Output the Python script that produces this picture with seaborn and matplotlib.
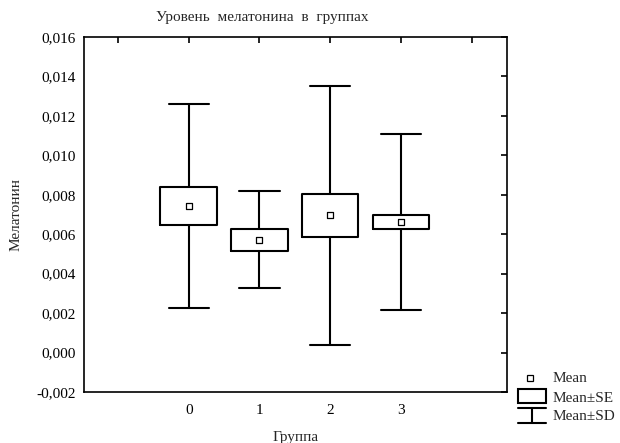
import matplotlib
matplotlib.use("Agg")
import matplotlib.pyplot as plt
import seaborn as sns
import pandas as pd
from matplotlib.ticker import FuncFormatter, FixedLocator
from matplotlib.lines import Line2D
from matplotlib.patches import Rectangle

groups = ["0", "1", "2", "3"]
means = [0.00743, 0.00572, 0.00695, 0.00662]
se = [0.00095, 0.00055, 0.00108, 0.00037]
sd = [0.00519, 0.00247, 0.00658, 0.00448]
yticks = [-0.002, 0.0, 0.002, 0.004, 0.006, 0.008, 0.010, 0.012, 0.014, 0.016]

sns.set_style("white")
plt.rcParams['font.family'] = ['Liberation Serif', 'DejaVu Serif']
plt.rcParams['font.size'] = 11

fig = plt.figure(figsize=(6.2, 4.43), dpi=100)
ax = fig.add_axes([84/620, 1-392/443, (507-84)/620, (392-37)/443])

stats = []
for g, m, s, d in zip(groups, means, se, sd):
    stats.append(dict(label=g, med=m, q1=m - s, q3=m + s,
                      whislo=m - d, whishi=m + d, mean=m, fliers=[]))
pos = list(range(len(groups)))
lw = 1.5
ax.bxp(stats, positions=pos, widths=0.8, showmeans=False, showfliers=False,
       boxprops=dict(color="black", linewidth=lw),
       whiskerprops=dict(color="black", linewidth=lw),
       capprops=dict(color="black", linewidth=lw),
       medianprops=dict(linewidth=0, color="none"),
       capwidths=0.57, manage_ticks=False)

df = pd.DataFrame({"pos": pos, "mean": means})
sns.scatterplot(data=df, x="pos", y="mean", marker="s", s=22, color="white",
                edgecolor="black", linewidth=0.9, ax=ax, zorder=5)

ax.set_xlim(-1.48, 4.5)
ax.set_ylim(-0.002, 0.016)
ax.xaxis.set_major_locator(FixedLocator([-1, 0, 1, 2, 3, 4]))
ax.set_xticklabels(["", "0", "1", "2", "3", ""])
ax.yaxis.set_major_locator(FixedLocator(yticks))
ax.yaxis.set_major_formatter(FuncFormatter(lambda v, p: f"{v:.3f}".replace(".", ",").replace("-0,000", "0,000")))
ax.tick_params(direction="in", length=4, width=1.2, top=True, right=True,
               labelsize=11, colors="black", pad=6)
ax.tick_params(axis="x", pad=9)
for sp in ax.spines.values():
    sp.set_color("black")
    sp.set_linewidth(1.2)
    sp.set_visible(True)
ax.set_xlabel("Группа", fontsize=11)
ax.set_ylabel("Мелатонин", fontsize=11)
ax.xaxis.set_label_coords(0.5, (392-437)/355)
ax.xaxis.label.set_va("center")
ax.yaxis.set_label_coords((16-84)/423, 0.5)
ax.yaxis.label.set_va("center")

fig.text(262/620, 1-17/443, "Уровень  мелатонина  в  группах", ha="center", va="center", fontsize=11)

# legend (Statistica style, drawn in figure pixels)
def fx(x): return x/620
def fy(y): return 1-y/443
fig.add_artist(Line2D([fx(530)], [fy(378)], marker="s", markersize=5, markerfacecolor="white",
                      markeredgecolor="black", markeredgewidth=0.9, linestyle="none"))
fig.add_artist(Rectangle((fx(518), fy(403)), fx(546)-fx(518), fy(389)-fy(403),
                         facecolor="white", edgecolor="black", linewidth=lw))
fig.add_artist(Line2D([fx(518), fx(546)], [fy(408), fy(408)], color="black", linewidth=lw))
fig.add_artist(Line2D([fx(532), fx(532)], [fy(408), fy(423)], color="black", linewidth=lw))
fig.add_artist(Line2D([fx(518), fx(546)], [fy(423), fy(423)], color="black", linewidth=lw))
fig.text(fx(553), fy(378), "Mean", ha="left", va="center", fontsize=11)
fig.text(fx(553), fy(398), "Mean±SE", ha="left", va="center", fontsize=11)
fig.text(fx(553), fy(416), "Mean±SD", ha="left", va="center", fontsize=11)

fig.savefig("out.png", dpi=100)
